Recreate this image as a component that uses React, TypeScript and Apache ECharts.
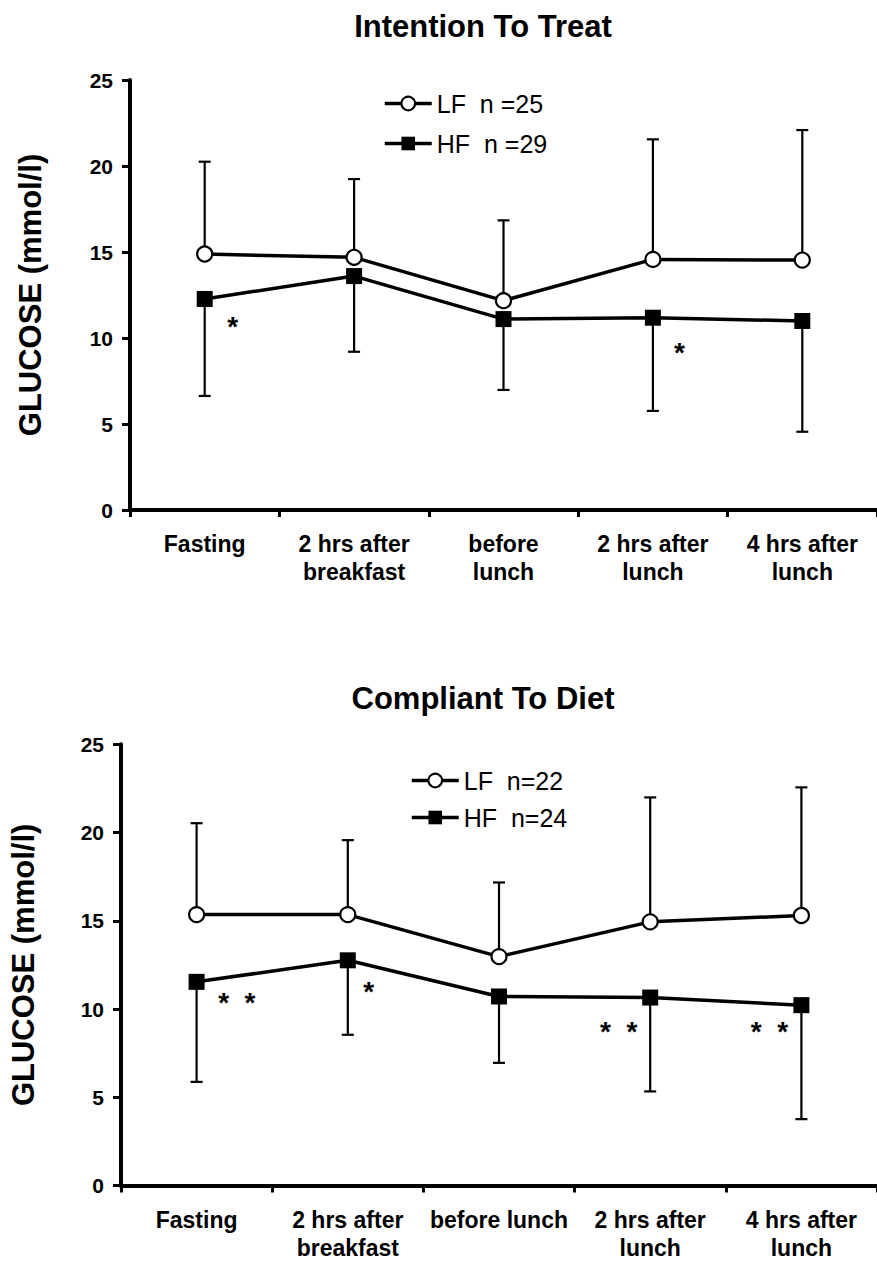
import React, { useEffect, useRef } from "react";
import * as echarts from "echarts";

const FONT = "'Liberation Sans', Arial, Helvetica, sans-serif";

// Categories
const topCategories = ["Fasting", "2 hrs after\nbreakfast", "before\nlunch", "2 hrs after\nlunch", "4 hrs after\nlunch"];
const bottomCategories = ["Fasting", "2 hrs after\nbreakfast", "before lunch", "2 hrs after\nlunch", "4 hrs after\nlunch"];

// Titles and legend names
const topTitle = "Intention To Treat";
const bottomTitle = "Compliant To Diet";
const yName = "GLUCOSE (mmol/l)";
const topLFName = "LF  n =25";
const topHFName = "HF  n =29";
const bottomLFName = "LF  n=22";
const bottomHFName = "HF  n=24";

// Top panel (Intention To Treat)
const topLF = [14.88, 14.69, 12.17, 14.57, 14.53];
const topLFUpper = [20.25, 19.24, 16.84, 21.55, 22.09];
const topHF = [12.27, 13.6, 11.1, 11.18, 10.99];
const topHFLower = [6.63, 9.2, 6.98, 5.76, 4.55];

// Bottom panel (Compliant To Diet)
const bottomLF = [15.35, 15.35, 12.97, 14.94, 15.3];
const bottomLFUpper = [20.53, 19.57, 17.17, 21.99, 22.56];
const bottomHF = [11.54, 12.76, 10.71, 10.65, 10.22];
const bottomHFLower = [5.87, 8.54, 6.95, 5.33, 3.76];

// Significance markers: category index, value level, shift within band, text
const topStarCats = [0, 3];
const topStarValues = [11.05, 9.53];
const topStarShift = [0.187, 0.178];
const topStarTexts = ["*", "*"];

const bottomStarCats = [0, 1, 3, 4];
const bottomStarValues = [10.71, 11.34, 9.09, 9.09];
const bottomStarShift = [0.266, 0.138, -0.209, -0.212];
const bottomStarTexts = ["*  *", "*", "*  *", "*  *"];

// Y axis ticks
const yMin = 0;
const yMax = 25;
const yStep = 5;

function errorData(means: number[], bounds: number[]) {
  return means.map((m, i) => [i, m, bounds[i]]);
}

function starData(cats: number[], vals: number[], shifts: number[]) {
  return cats.map((c, i) => [c, vals[i], shifts[i], i]);
}

function errorRender(params: any, api: any) {
  const x = api.value(0);
  const m = api.value(1);
  const b = api.value(2);
  const p1 = api.coord([x, m]);
  const p2 = api.coord([x, b]);
  const cap = 6;
  const st = { stroke: "#000", lineWidth: 2.2 };
  return {
    type: "group",
    children: [
      { type: "line", shape: { x1: p1[0], y1: p1[1], x2: p2[0], y2: p2[1] }, style: st },
      { type: "line", shape: { x1: p2[0] - cap, y1: p2[1], x2: p2[0] + cap, y2: p2[1] }, style: st },
    ],
  };
}

function makeStarRender(texts: string[]) {
  return (params: any, api: any) => {
    const x = api.value(0);
    const v = api.value(1);
    const shift = api.value(2);
    const idx = api.value(3);
    const p = api.coord([x, v]);
    const band = api.size([1, 0])[0];
    const fs = 28;
    return {
      type: "text",
      x: p[0] + shift * band,
      y: p[1] + 0.23 * fs,
      style: {
        text: texts[idx],
        fill: "#000",
        font: `bold ${fs}px ${FONT}`,
        textAlign: "center",
        textVerticalAlign: "middle",
      },
    };
  };
}

function xAxisCfg(cats: string[], gridIndex: number) {
  return {
    type: "category",
    gridIndex,
    data: cats,
    boundaryGap: true,
    axisLine: { lineStyle: { color: "#000", width: 4 } },
    axisTick: { show: true, length: 7, lineStyle: { color: "#000", width: 3 } },
    axisLabel: {
      interval: 0,
      margin: 20,
      color: "#000",
      fontFamily: FONT,
      fontWeight: "bold",
      fontSize: 23,
      lineHeight: 28,
    },
    splitLine: { show: false },
  };
}

function yAxisCfg(gridIndex: number, nameGap: number) {
  return {
    type: "value",
    gridIndex,
    min: yMin,
    max: yMax,
    interval: yStep,
    name: yName,
    nameLocation: "middle",
    nameRotate: 90,
    nameGap,
    nameTextStyle: { color: "#000", fontFamily: FONT, fontWeight: "bold", fontSize: 31 },
    axisLine: { show: true, lineStyle: { color: "#000", width: 4 } },
    axisTick: { show: true, length: 8, lineStyle: { color: "#000", width: 3 } },
    axisLabel: { margin: 17, color: "#000", fontFamily: FONT, fontWeight: "bold", fontSize: 21 },
    splitLine: { show: false },
  };
}

function lineSeries(name: string, data: number[], symbol: string, gi: number) {
  const isCircle = symbol === "circle";
  return {
    name,
    type: "line",
    xAxisIndex: gi,
    yAxisIndex: gi,
    data,
    symbol,
    symbolSize: isCircle ? 15 : 16,
    showAllSymbol: true,
    z: 5,
    lineStyle: { color: "#000", width: 3.5 },
    itemStyle: isCircle
      ? { color: "#fff", borderColor: "#000", borderWidth: 2.2 }
      : { color: "#000", borderColor: "#000", borderWidth: 0 },
  };
}

function errSeries(means: number[], bounds: number[], gi: number) {
  return {
    type: "custom",
    xAxisIndex: gi,
    yAxisIndex: gi,
    z: 2,
    silent: true,
    encode: { x: 0, y: [1, 2] },
    data: errorData(means, bounds),
    renderItem: errorRender,
  };
}

function starSeries(cats: number[], vals: number[], shifts: number[], texts: string[], gi: number) {
  return {
    type: "custom",
    xAxisIndex: gi,
    yAxisIndex: gi,
    z: 6,
    silent: true,
    encode: { x: 0, y: 1 },
    data: starData(cats, vals, shifts),
    renderItem: makeStarRender(texts),
  };
}

export default function App() {
  const ref = useRef<HTMLDivElement>(null);

  useEffect(() => {
    document.body.style.margin = "0";
    if (!ref.current) return;
    const chart = echarts.init(ref.current, undefined, { renderer: "svg" });
    const legendText = { color: "#000", fontFamily: FONT, fontSize: 25 };
    const legendCommon = {
      orient: "vertical",
      itemWidth: 47,
      itemHeight: 17,
      selectedMode: false,
      textStyle: legendText,
      lineStyle: { width: 3.5, color: "#000" },
    };
    chart.setOption({
      animation: false,
      backgroundColor: "#fff",
      grid: [
        { left: 130, top: 80, width: 750, height: 430, containLabel: false },
        { left: 119.3, top: 744.3, width: 760, height: 441.2, containLabel: false },
      ],
      xAxis: [xAxisCfg(topCategories, 0), xAxisCfg(bottomCategories, 1)],
      yAxis: [yAxisCfg(0, 84), yAxisCfg(1, 82)],
      legend: [
        { ...legendCommon, data: [topLFName, topHFName], left: 378, top: 86, itemGap: 15 },
        { ...legendCommon, data: [bottomLFName, bottomHFName], left: 405, top: 763, itemGap: 12 },
      ],
      graphic: [
        {
          type: "text",
          x: 483,
          y: 26,
          style: {
            text: topTitle,
            fill: "#000",
            font: `bold 31px ${FONT}`,
            textAlign: "center",
            textVerticalAlign: "middle",
          },
        },
        {
          type: "text",
          x: 483,
          y: 698,
          style: {
            text: bottomTitle,
            fill: "#000",
            font: `bold 31px ${FONT}`,
            textAlign: "center",
            textVerticalAlign: "middle",
          },
        },
      ],
      series: [
        errSeries(topLF, topLFUpper, 0),
        errSeries(topHF, topHFLower, 0),
        lineSeries(topLFName, topLF, "circle", 0),
        lineSeries(topHFName, topHF, "rect", 0),
        starSeries(topStarCats, topStarValues, topStarShift, topStarTexts, 0),
        errSeries(bottomLF, bottomLFUpper, 1),
        errSeries(bottomHF, bottomHFLower, 1),
        lineSeries(bottomLFName, bottomLF, "circle", 1),
        lineSeries(bottomHFName, bottomHF, "rect", 1),
        starSeries(bottomStarCats, bottomStarValues, bottomStarShift, bottomStarTexts, 1),
      ],
    });
    return () => chart.dispose();
  }, []);

  return <div ref={ref} style={{ width: 877, height: 1262, background: "#fff" }} />;
}
